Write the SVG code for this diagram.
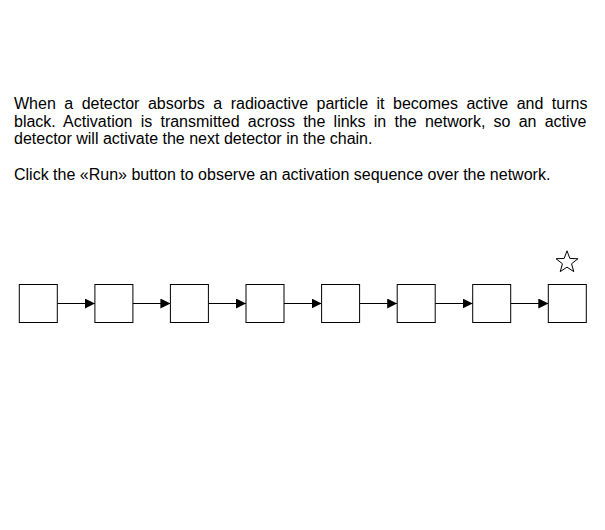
<svg xmlns="http://www.w3.org/2000/svg" width="605" height="530" viewBox="0 0 605 530">
<defs>
<style>
.t{font-family:"Liberation Sans",Arial,sans-serif;font-size:16px;fill:#000}
.box{fill:#fff;stroke:#000;stroke-width:1}
.edge{stroke:#000;stroke-width:1;fill:none}
</style>
<marker id="arr" viewBox="0 0 10 10" refX="10" refY="5" markerWidth="10" markerHeight="10" markerUnits="userSpaceOnUse" orient="auto">
<path d="M0,0 L10,5 L0,10 Z" fill="#000"/>
</marker>
</defs>
<rect width="605" height="530" fill="#fff"/>
<g id="description">
<text class="t" x="14" y="109" style="word-spacing:4.02px">When a detector absorbs a radioactive particle it becomes active and turns</text>
<text class="t" x="14" y="126.5" style="word-spacing:3.76px">black. Activation is transmitted across the links in the network, so an active</text>
<text class="t" x="14" y="144">detector will activate the next detector in the chain.</text>
<text class="t" x="14" y="180">Click the «Run» button to observe an activation sequence over the network.</text>
</g>
<g id="connectors">
<line class="edge" x1="57.3" y1="303.5" x2="94.9" y2="303.5" marker-end="url(#arr)"/>
<line class="edge" x1="132.9" y1="303.5" x2="170.4" y2="303.5" marker-end="url(#arr)"/>
<line class="edge" x1="208.4" y1="303.5" x2="246" y2="303.5" marker-end="url(#arr)"/>
<line class="edge" x1="284" y1="303.5" x2="321.6" y2="303.5" marker-end="url(#arr)"/>
<line class="edge" x1="359.6" y1="303.5" x2="397.2" y2="303.5" marker-end="url(#arr)"/>
<line class="edge" x1="435.2" y1="303.5" x2="472.7" y2="303.5" marker-end="url(#arr)"/>
<line class="edge" x1="510.7" y1="303.5" x2="548.3" y2="303.5" marker-end="url(#arr)"/>
</g>
<g id="node1"><rect class="box" x="19.3" y="284.5" width="38" height="38"/></g>
<g id="node2"><rect class="box" x="94.9" y="284.5" width="38" height="38"/></g>
<g id="node3"><rect class="box" x="170.4" y="284.5" width="38" height="38"/></g>
<g id="node4"><rect class="box" x="246" y="284.5" width="38" height="38"/></g>
<g id="node5"><rect class="box" x="321.6" y="284.5" width="38" height="38"/></g>
<g id="node6"><rect class="box" x="397.2" y="284.5" width="38" height="38"/></g>
<g id="node7"><rect class="box" x="472.7" y="284.5" width="38" height="38"/></g>
<g id="node8"><rect class="box" x="548.3" y="284.5" width="38" height="38"/></g>
<g id="star">
<polygon points="567,250.8 569.82,258.42 577.94,258.75 571.56,263.78 573.76,271.6 567,267.1 560.24,271.6 562.44,263.78 556.06,258.75 564.18,258.42" fill="none" stroke="#000" stroke-width="1" stroke-linejoin="miter"/>
</g>
</svg>
